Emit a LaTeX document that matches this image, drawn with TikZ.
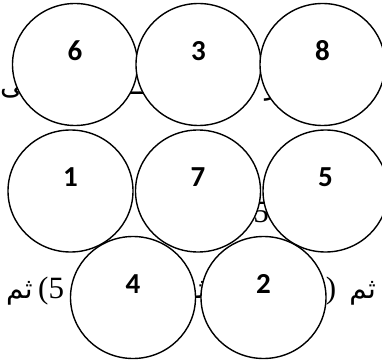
\documentclass[tikz,border=0pt]{standalone}
\usepackage{fontspec}
\setmainfont{Liberation Serif}
\newfontfamily\arabicfont[Script=Arabic]{DejaVu Sans}
\newfontfamily\numfont{Carlito}
\TeXXeTstate=1
\usetikzlibrary{shapes.geometric}
\begin{document}
\begin{tikzpicture}[x=1pt,y=-1pt,
  ball/.style={ellipse, draw, fill=white, line width=1.4pt, minimum width=125pt, minimum height=122pt, inner sep=0pt},
  num/.style={font=\numfont\bfseries\fontsize{29}{29}\selectfont, inner sep=0pt},
  ar/.style={font=\arabicfont\fontsize{28}{30}\selectfont, inner sep=0pt},
  lat/.style={font=\fontsize{31}{33}\selectfont, inner sep=0pt}]
\useasboundingbox (0,0) rectangle (382,363);
% background text fragments
\node[ar, anchor=base east] (a1) at (40,95) {\beginR إلى\endR};
\node[ar, anchor=base] (a2) at (136,95) {ـــ};
\node[ar, anchor=base] (a3) at (272,95) {\beginR ر\endR};
\node[ar, anchor=base west] (a4) at (373,95) {\beginR ا\endR};
\node[lat, anchor=base] (m5) at (261,222) {5};
\node[ar, anchor=base east] (b1) at (376,298) {\beginR ثم\endR};
\node[lat, anchor=base] (b2) at (331,298) {)};
\node[ar, anchor=base] (b3) at (198,298) {\beginR ثـ\endR};
\node[lat, anchor=base west] (b4) at (38,298) {(5};
\node[ar, anchor=base west] (b5) at (6,298) {\beginR ثم\endR};
% circles
\node[ball] (c6) at (75,64.5) {};
\node[ball] (c3) at (198.5,64.5) {};
\node[ball] (c8) at (322.5,64.5) {};
\node[ball] (c1) at (70.5,191) {};
\node[ball] (c7) at (198,191) {};
\node[ball] (c5) at (325.5,191) {};
\node[ball] (c4) at (133,297.5) {};
\node[ball] (c2) at (263.5,297.5) {};
% numbers
\foreach \c/\t in {c6/6,c3/3,c8/8,c1/1,c7/7,c5/5,c4/4,c2/2}
  \node[num] (n\t) at ([yshift=13.5pt]\c.center) {\t};
\end{tikzpicture}
\end{document}
